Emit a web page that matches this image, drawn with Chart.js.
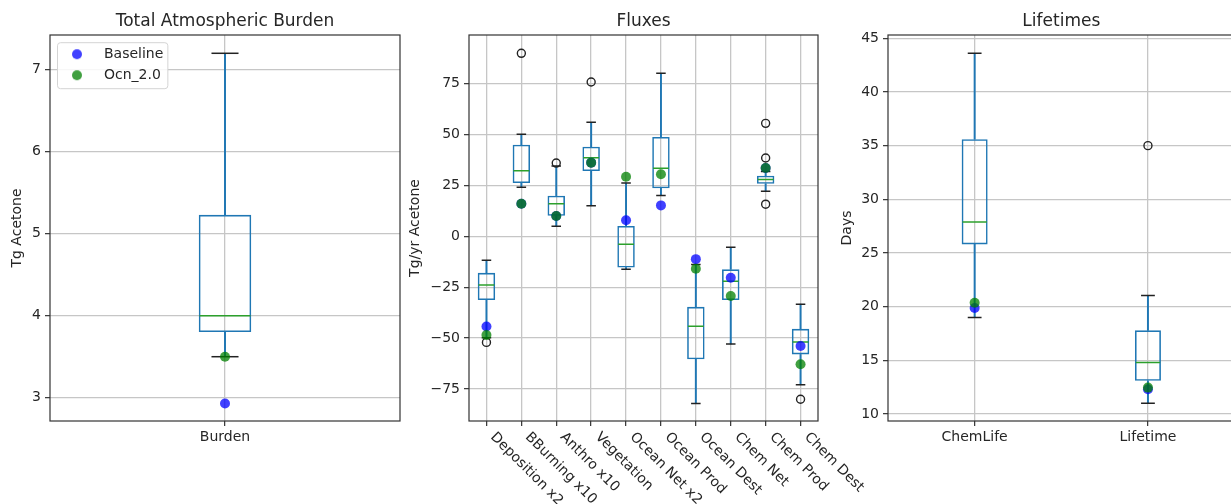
<!DOCTYPE html>
<html><head><meta charset="utf-8">
<script src="https://cdn.jsdelivr.net/npm/chart.js@4.4.1/dist/chart.umd.min.js"></script>
<style>
html,body{margin:0;padding:0;background:#fff;}
body{width:1231px;height:504px;overflow:hidden;position:relative;}
canvas{position:absolute;top:0;}
</style></head><body>
<canvas id="c1" width="410" height="504" style="left:0px"></canvas>
<canvas id="c2" width="490" height="504" style="left:400px"></canvas>
<canvas id="c3" width="410" height="504" style="left:830px"></canvas>
<script>
// ---------- Panel 1: Total Atmospheric Burden ----------
const burdenCats = ['Burden'];
const burdenLo  = [3.50];
const burdenQ1  = [3.80];
const burdenMed = [4.00];
const burdenQ3  = [5.23];
const burdenHi  = [7.20];
const burdenOut = [[]];
const burdenBaseline = [2.93];
const burdenOcn = [3.50];
const burdenTicks = [3, 4, 5, 6, 7];

// ---------- Panel 2: Fluxes ----------
const fluxCats = ['Deposition x2','BBurning x10','Anthro x10','Vegetation','Ocean Net x2','Ocean Prod','Ocean Dest','Chem Net','Chem Prod','Chem Dest'];
const fluxLo  = [-49.8, 24.1,  4.9, 15.0, -16.2, 20.1, -82.1, -52.9, 22.2, -72.9];
const fluxQ1  = [-31.3, 26.2, 10.1, 32.1, -15.3, 23.6, -60.4, -31.3, 25.8, -58.0];
const fluxMed = [-23.9, 32.2, 16.0, 38.6,  -3.9, 33.4, -44.2, -22.0, 27.9, -51.9];
const fluxQ3  = [-17.9, 45.0, 20.0, 44.0,   5.1, 48.8, -34.6, -16.2, 29.8, -45.4];
const fluxHi  = [-11.8, 50.1, 34.5, 56.0,  26.2, 80.1, -13.8,  -5.4, 31.8, -33.3];
const fluxOut = [[-52.1],[89.9],[36.0],[75.8],[],[],[],[],[55.5,38.5,15.8],[-80.0]];
const fluxBaseline = [-44.3, 16.0, 10.0, 36.2,  7.9, 15.2, -11.2, -20.3, 33.6, -53.9];
const fluxOcn      = [-48.5, 16.0, 10.0, 36.2, 29.3, 30.5, -15.9, -29.3, 33.6, -62.8];
const fluxTicks = [-75, -50, -25, 0, 25, 50, 75];

// ---------- Panel 3: Lifetimes ----------
const lifeCats = ['ChemLife','Lifetime'];
const lifeLo  = [19.0, 11.0];
const lifeQ1  = [25.8, 13.1];
const lifeMed = [27.9, 14.8];
const lifeQ3  = [35.6, 17.8];
const lifeHi  = [43.6, 21.05];
const lifeOut = [[], [35.0]];
const lifeBaseline = [19.87, 12.3];
const lifeOcn = [20.36, 12.46];
const lifeTicks = [10, 15, 20, 25, 30, 35, 40, 45];

// ---------- styling ----------
const FONT = "'DejaVu Sans', sans-serif";
const TXT = '#262626';
const BOX_BLUE = '#1f77b4', MED_GREEN = '#2ca02c';
const BASE_COLOR = 'rgba(0,0,255,0.75)', OCN_COLOR = 'rgba(0,128,0,0.75)';
const GRID = '#c6c6c6';
Chart.defaults.font.family = FONT;
Chart.defaults.color = TXT;

function markerCanvas(color){
  const c = document.createElement('canvas'); c.width = 12; c.height = 12;
  const g = c.getContext('2d'); g.fillStyle = color; g.beginPath(); g.arc(6,6,5,0,Math.PI*2); g.fill();
  return c;
}

const framePlugin = { id:'frame', afterDraw(chart){
  const a = chart.chartArea, ctx = chart.ctx;
  ctx.save(); ctx.strokeStyle = '#333'; ctx.lineWidth = 1.2;
  ctx.strokeRect(a.left, a.top, a.right - a.left, a.bottom - a.top);
  ctx.restore();
}};

const legendFramePlugin = { id:'legendFrame', beforeDraw(chart){
  const lg = chart.legend;
  if (!lg || lg._framed || !lg.options.display) return;
  const orig = lg.draw;
  lg.draw = function(){
    const hb = this.legendHitBoxes;
    if (hb && hb.length){
      let l=Infinity,t=Infinity,r=-Infinity,b=-Infinity;
      hb.forEach(h=>{l=Math.min(l,h.left);t=Math.min(t,h.top);r=Math.max(r,h.left+h.width);b=Math.max(b,h.top+h.height);});
      const ctx = this.ctx; ctx.save(); ctx.beginPath();
      ctx.roundRect(l+0.5, t-4.5, r-l+4, b-t+11, 3);
      ctx.fillStyle='rgba(255,255,255,0.85)'; ctx.fill();
      ctx.strokeStyle='#d4d4d4'; ctx.lineWidth=1; ctx.stroke(); ctx.restore();
    }
    orig.apply(this, arguments);
  };
  lg._framed = true;
}};

const rotLabelPlugin = { id:'rotLabels', afterDraw(chart){
  const xs = chart.scales.x, ctx = chart.ctx, a = chart.chartArea;
  ctx.save();
  ctx.font = '14px ' + FONT; ctx.fillStyle = TXT; ctx.textAlign = 'left'; ctx.textBaseline = 'top';
  chart.data.labels.forEach((lab, i) => {
    const x = xs.getPixelForTick(i);
    ctx.save(); ctx.translate(x + 11, a.bottom + 9); ctx.rotate(Math.PI/4);
    ctx.fillText(lab, 0, 0); ctx.restore();
  });
  ctx.restore();
}};

function boxPx(chart, frac){ return chart.scales.x.width / chart.data.labels.length * frac; }

function makeChart(id, p){
  const cats = p.cats;
  const fliers = [];
  p.out.forEach((arr, i) => arr.forEach(v => fliers.push({x: cats[i], y: v})));
  const datasets = [
    { type:'bar', label:'box', data: cats.map((c,i)=>[p.q1[i], p.q3[i]]), backgroundColor:'rgba(0,0,0,0)',
      borderColor:BOX_BLUE, borderWidth:1.6, borderSkipped:false, grouped:false, categoryPercentage:1, barPercentage:p.frac, order:5 },
    { type:'bar', label:'whiskerHi', data: cats.map((c,i)=>[p.q3[i], p.hi[i]]), backgroundColor:BOX_BLUE, borderWidth:0,
      grouped:false, barThickness:1.3, order:6 },
    { type:'bar', label:'whiskerLo', data: cats.map((c,i)=>[p.lo[i], p.q1[i]]), backgroundColor:BOX_BLUE, borderWidth:0,
      grouped:false, barThickness:1.3, order:6 },
    { type:'line', label:'capHi', data:p.hi, showLine:false, pointStyle:'line',
      pointRadius: ctx => boxPx(ctx.chart, p.frac)/4 + 0.4, pointBorderColor:'#222', pointBorderWidth:1.5, order:4 },
    { type:'line', label:'capLo', data:p.lo, showLine:false, pointStyle:'line',
      pointRadius: ctx => boxPx(ctx.chart, p.frac)/4 + 0.4, pointBorderColor:'#222', pointBorderWidth:1.5, order:4 },
    { type:'line', label:'median', data:p.med, showLine:false, pointStyle:'line',
      pointRadius: ctx => boxPx(ctx.chart, p.frac)/2 - 0.8, pointBorderColor:MED_GREEN, pointBorderWidth:1.5, order:3 },
    { type:'line', label:'fliers', data:fliers, showLine:false, pointStyle:'circle', pointRadius:4,
      pointBackgroundColor:'rgba(0,0,0,0)', pointBorderColor:'#222', pointBorderWidth:1.4, order:2 },
    { type:'line', label:'Baseline', data:p.base, showLine:false, pointStyle:'circle', pointRadius:5,
      pointBackgroundColor:BASE_COLOR, pointBorderWidth:0, borderColor:BASE_COLOR, backgroundColor:BASE_COLOR, order:1 },
    { type:'line', label:'Ocn_2.0', data:p.ocn, showLine:false, pointStyle:'circle', pointRadius:5,
      pointBackgroundColor:OCN_COLOR, pointBorderWidth:0, borderColor:OCN_COLOR, backgroundColor:OCN_COLOR, order:0 }
  ];
  const plugins = [framePlugin];
  if (p.legend) plugins.push(legendFramePlugin);
  if (p.rot) plugins.push(rotLabelPlugin);
  return new Chart(document.getElementById(id), {
    type:'bar',
    data:{ labels:cats, datasets },
    plugins,
    options:{
      responsive:false, animation:false, events:[], devicePixelRatio:1,
      layout:{ padding:{ left:0, right:p.padR, top:0, bottom:0 } },
      scales:{
        x:{ type:'category', offset:true,
            afterFit: s => { s.height = 83; },
            ticks:{ display:!p.rot, font:{size:14}, color:TXT, padding:3, maxRotation:0, minRotation:0, autoSkip:false },
            grid:{ offset:false, color:GRID, lineWidth:1.3, tickColor:'#333', tickWidth:1.2, tickLength:5 },
            border:{ display:false } },
        y:{ type:'linear', min:p.ymin, max:p.ymax,
            afterBuildTicks: s => { s.ticks = p.ticks.map(v => ({value:v})); },
            afterFit: s => { s.width = p.yw; },
            ticks:{ font:{size:14}, color:TXT, padding:4, callback: v => String(v).replace('-', '\u2212') },
            grid:{ color:GRID, lineWidth:1.3, tickColor:'#333', tickWidth:1.2, tickLength:5 },
            border:{ display:false },
            title:{ display:true, text:p.ylabel, font:{size:14}, color:TXT, padding:{top:p.ytp, bottom:0} } }
      },
      plugins:{
        title:{ display:true, text:p.title, font:{size:17, weight:'normal'}, color:TXT, padding:{top:11, bottom:3.6}, fullSize:false },
        tooltip:{ enabled:false },
        legend: p.legend ? {
          display:true, position:'chartArea', align:'start',
          title:{ display:true, text:'', font:{size:1}, padding:{top:37, bottom:2} },
          labels:{ usePointStyle:true, pointStyleWidth:40, boxHeight:10, font:{size:14}, color:TXT, padding:7,
            generateLabels: chart => chart.data.datasets
              .map((d, i) => ({d, i}))
              .filter(o => o.d.label === 'Baseline' || o.d.label === 'Ocn_2.0')
              .map(o => ({ text:o.d.label, datasetIndex:o.i, pointStyle:markerCanvas(o.d.pointBackgroundColor),
                           fillStyle:o.d.pointBackgroundColor, strokeStyle:o.d.pointBackgroundColor, lineWidth:0, hidden:false, fontColor:TXT }))
          }
        } : { display:false }
      }
    }
  });
}

makeChart('c1', { cats:burdenCats, lo:burdenLo, q1:burdenQ1, med:burdenMed, q3:burdenQ3, hi:burdenHi, out:burdenOut,
  base:burdenBaseline, ocn:burdenOcn, ticks:burdenTicks, ymin:2.716, ymax:7.423, frac:0.15, yw:50, padR:10, ytp:8.6,
  ylabel:'Tg Acetone', title:'Total Atmospheric Burden', legend:true, rot:false });

makeChart('c2', { cats:fluxCats, lo:fluxLo, q1:fluxQ1, med:fluxMed, q3:fluxQ3, hi:fluxHi, out:fluxOut,
  base:fluxBaseline, ocn:fluxOcn, ticks:fluxTicks, ymin:-90.7, ymax:98.9, frac:0.5, yw:69, padR:72, ytp:7.3,
  ylabel:'Tg/yr Acetone', title:'Fluxes', legend:false, rot:true });

makeChart('c3', { cats:lifeCats, lo:lifeLo, q1:lifeQ1, med:lifeMed, q3:lifeQ3, hi:lifeHi, out:lifeOut,
  base:lifeBaseline, ocn:lifeOcn, ticks:lifeTicks, ymin:9.35, ymax:45.31, frac:0.15, yw:58, padR:3, ytp:8.9,
  ylabel:'Days', title:'Lifetimes', legend:false, rot:false });
</script>
</body></html>
